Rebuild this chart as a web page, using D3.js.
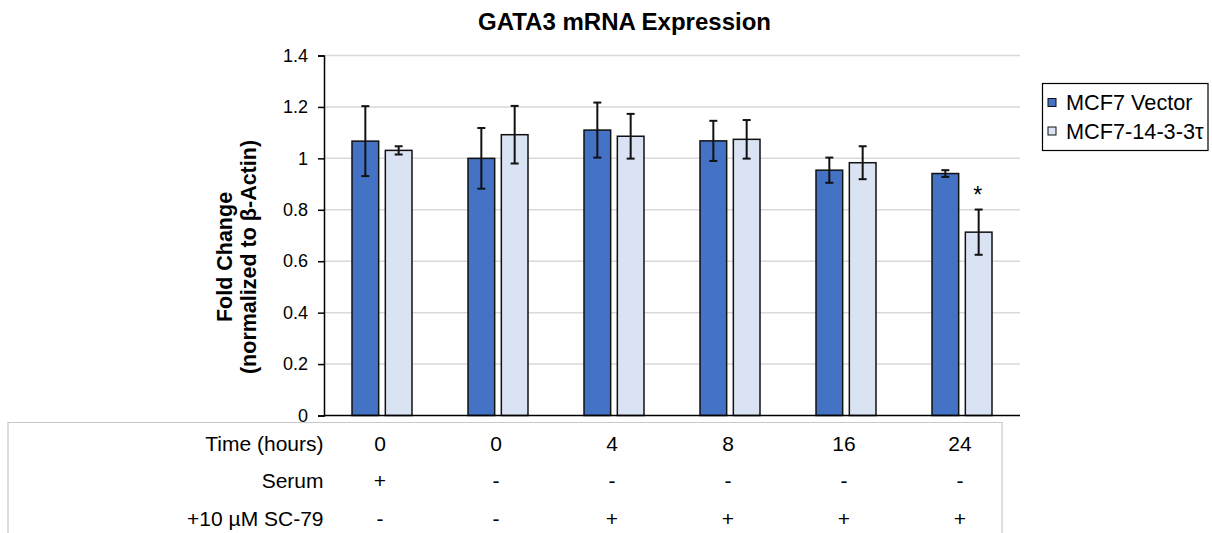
<!DOCTYPE html>
<html>
<head>
<meta charset="utf-8">
<script src="https://cdn.jsdelivr.net/npm/d3@7"></script>
<style>
  html, body { margin: 0; padding: 0; background: #fff; }
  svg { display: block; font-family: "Liberation Sans", Arial, sans-serif; }
</style>
</head>
<body>
<svg id="chart" width="1212" height="533"></svg>
<script>
// ---- data ----
const timeLabels = ["0", "0", "4", "8", "16", "24"];
const serumLabels = ["+", "-", "-", "-", "-", "-"];
const sc79Labels = ["-", "-", "+", "+", "+", "+"];
const seriesNames = ["MCF7 Vector", "MCF7-14-3-3\u03C4"];
const vectorValues = [1.067, 1.0, 1.110, 1.068, 0.954, 0.941];
const vectorErrors = [0.136, 0.118, 0.107, 0.078, 0.049, 0.013];
const tauValues = [1.031, 1.092, 1.086, 1.074, 0.983, 0.713];
const tauErrors = [0.016, 0.112, 0.087, 0.075, 0.064, 0.088];
const significance = [["", "", "", "", "", ""], ["", "", "", "", "", "*"]];
const yTicks = [0, 0.2, 0.4, 0.6, 0.8, 1, 1.2, 1.4];
const rowTitles = ["Time (hours)", "Serum", "+10 \u00B5M SC-79"];

// ---- layout ----
const svg = d3.select("#chart");
const margin = { left: 324, right: 1020, top: 55.5, bottom: 415.5 };
const colors = ["#4472C4", "#DAE3F3"];

const idx = d3.range(timeLabels.length);
const x0 = d3.scaleBand().domain(idx).range([margin.left, margin.right]).padding(0);
const bw = x0.bandwidth();
const x1 = d3.scaleBand().domain([0, 1]).range([bw / 2 - 30, bw / 2 + 30]).paddingInner(0.2).paddingOuter(0);
const y = d3.scaleLinear().domain([0, 1.4]).range([margin.bottom, margin.top]);

const series = [
  { name: seriesNames[0], values: vectorValues, errors: vectorErrors },
  { name: seriesNames[1], values: tauValues, errors: tauErrors }
];

// gridlines
svg.append("g")
  .selectAll("line")
  .data(yTicks.filter(d => d > 0))
  .join("line")
  .attr("x1", margin.left).attr("x2", margin.right)
  .attr("y1", d => y(d)).attr("y2", d => y(d))
  .attr("stroke", "#d9d9d9").attr("stroke-width", 1.5);

// y axis
const yAxis = svg.append("g")
  .attr("transform", `translate(${margin.left},0)`)
  .call(d3.axisLeft(y).tickValues(yTicks).tickSize(6).tickPadding(10).tickFormat(d3.format("~g")));
yAxis.select(".domain").attr("stroke", "#000").attr("stroke-width", 1.5);
yAxis.selectAll(".tick line").attr("stroke", "#000").attr("stroke-width", 1.5);
yAxis.selectAll(".tick text").attr("font-size", 18).attr("fill", "#000")
  .attr("font-family", "Liberation Sans, Arial, sans-serif");

// bars
series.forEach((s, si) => {
  const g = svg.append("g");
  g.selectAll("rect")
    .data(idx)
    .join("rect")
    .attr("x", i => x0(i) + x1(si))
    .attr("width", x1.bandwidth())
    .attr("y", i => y(s.values[i]))
    .attr("height", i => y(0) - y(s.values[i]))
    .attr("fill", colors[si])
    .attr("stroke", "#111")
    .attr("stroke-width", 1.5);
  // error bars
  const eb = g.append("g").attr("stroke", "#111").attr("stroke-width", 2);
  idx.forEach(i => {
    const cx = x0(i) + x1(si) + x1.bandwidth() / 2;
    const hi = y(s.values[i] + s.errors[i]);
    const lo = y(s.values[i] - s.errors[i]);
    eb.append("line").attr("x1", cx).attr("x2", cx).attr("y1", hi).attr("y2", lo);
    eb.append("line").attr("x1", cx - 4).attr("x2", cx + 4).attr("y1", hi).attr("y2", hi);
    eb.append("line").attr("x1", cx - 4).attr("x2", cx + 4).attr("y1", lo).attr("y2", lo);
  });
  // significance marks
  g.selectAll("text.sig")
    .data(idx.filter(i => significance[si][i]))
    .join("text")
    .attr("class", "sig")
    .attr("x", i => x0(i) + x1(si) + x1.bandwidth() / 2 - 1)
    .attr("y", i => y(s.values[i] + s.errors[i]) - 7)
    .attr("text-anchor", "middle")
    .attr("font-size", 23)
    .attr("fill", "#000")
    .text(i => significance[si][i]);
});

// x axis line
svg.append("line")
  .attr("x1", margin.left).attr("x2", margin.right)
  .attr("y1", y(0)).attr("y2", y(0))
  .attr("stroke", "#000").attr("stroke-width", 1.5);

// title
svg.append("text")
  .attr("x", 624.5).attr("y", 30)
  .attr("text-anchor", "middle")
  .attr("font-size", 24).attr("font-weight", "bold").attr("fill", "#000")
  .text("GATA3 mRNA Expression");

// y label
const yl = svg.append("text")
  .attr("transform", "translate(0,257) rotate(-90)")
  .attr("text-anchor", "middle")
  .attr("font-size", 21.5).attr("font-weight", "bold").attr("fill", "#000");
yl.append("tspan").attr("x", 0).attr("y", 231.5).text("Fold Change");
yl.append("tspan").attr("x", 0).attr("y", 256).text("(normalized to \u03B2-Actin)");

// data table
const table = svg.append("g");
table.append("path")
  .attr("d", `M8,533 V422.5 H1002 V533`)
  .attr("fill", "none").attr("stroke", "#c8c8c8").attr("stroke-width", 1.2);
const rows = [timeLabels, serumLabels, sc79Labels];
const rowBaselines = [451, 488, 526];
rows.forEach((r, ri) => {
  table.append("text")
    .attr("x", 323.5).attr("y", rowBaselines[ri])
    .attr("text-anchor", "end")
    .attr("font-size", 21).attr("fill", "#000")
    .text(rowTitles[ri]);
  table.selectAll(null)
    .data(idx)
    .join("text")
    .attr("x", i => x0(i) + bw / 2 - 2)
    .attr("y", rowBaselines[ri])
    .attr("text-anchor", "middle")
    .attr("font-size", 21).attr("fill", "#000")
    .text(i => r[i]);
});

// legend
const lg = svg.append("g");
lg.append("rect")
  .attr("x", 1042.5).attr("y", 83.5).attr("width", 165.5).attr("height", 67)
  .attr("fill", "#fff").attr("stroke", "#000").attr("stroke-width", 1.2);
series.forEach((s, si) => {
  const cy = 102.5 + si * 28.5;
  lg.append("rect")
    .attr("x", 1048).attr("y", cy - 4).attr("width", 8).attr("height", 8)
    .attr("fill", colors[si]).attr("stroke", "#111").attr("stroke-width", 1);
  lg.append("text")
    .attr("x", 1066).attr("y", cy + 7.5)
    .attr("font-size", 21.7).attr("fill", "#000")
    .text(s.name);
});
</script>
</body>
</html>
